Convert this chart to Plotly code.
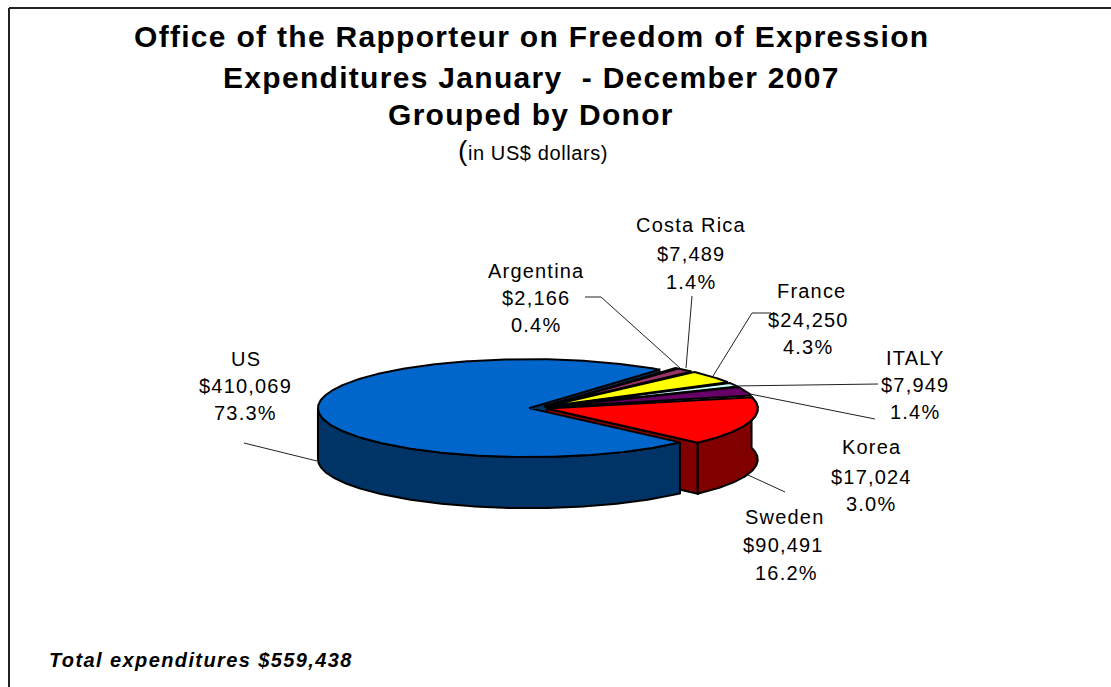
import numpy as np
import plotly.graph_objects as go

donors = ["US", "Argentina", "Costa Rica", "France", "ITALY", "Korea", "Sweden"]
amounts = [410069, 2166, 7489, 24250, 7949, 17024, 90491]
percents = ["73.3%", "0.4%", "1.4%", "4.3%", "1.4%", "3.0%", "16.2%"]
top_colors = ["#0066CC", "#000080", "#993366", "#FFFF00", "#CCFFFF", "#660066", "#FF0000"]
wall_colors = ["#003366", "#000040", "#4D1933", "#808000", "#668080", "#330033", "#800000"]
title_lines = ["Office of the Rapporteur on Freedom of Expression",
               "Expenditures January  - December 2007",
               "Grouped by Donor"]
total_note = "Total expenditures $559,438"

# Geometry of the tilted pie, in page pixels
CX, CY, RX, RY, DEPTH = 538.0, 408.0, 211.0, 49.0, 51.0
EXPLODE = 0.043
START_DEG = 44.3

# Label text centres and leader-line routes, in page pixels
label_layout = {
    "US": [(246, 359), (245, 386), (245, 413)],
    "Argentina": [(536, 271), (536, 298), (536, 325)],
    "Costa Rica": [(691, 225), (691, 254), (691, 282)],
    "France": [(811, 291), (808, 320), (808, 347)],
    "ITALY": [(915, 358), (915, 385), (915, 412)],
    "Korea": [(871, 447), (871, 477), (871, 504)],
    "Sweden": [(784, 517), (783, 545), (786, 573)],
}
leaders = {
    "US": [(244, 443), (317, 461)],
    "Argentina": [(585, 297), (601, 297), (680, 368)],
    "Costa Rica": [(692, 296), (686, 368)],
    "France": [(771, 313), (752, 313), (713, 376)],
    "ITALY": [(878, 384), (733, 386)],
    "Korea": [(875, 419), (750, 394)],
    "Sweden": [(785, 492), (748, 475)],
}

FONT = "Liberation Sans, Arial, sans-serif"
spans = 360.0 * np.array(amounts) / sum(amounts)
starts = START_DEG + np.concatenate([[0], np.cumsum(spans)[:-1]])
ends = starts + spans

fig = go.Figure()


def poly(xs, ys, color):
    fig.add_trace(go.Scatter(x=xs, y=ys, mode="lines", fill="toself", fillcolor=color,
                             line=dict(color="#000000", width=2), hoverinfo="skip",
                             showlegend=False))


def geom(i):
    mid = np.radians((starts[i] + ends[i]) / 2)
    ox = CX + EXPLODE * RX * np.cos(mid)
    oy = CY + EXPLODE * RY * np.sin(mid)
    t = np.radians(np.linspace(starts[i], ends[i], max(4, int(spans[i] * 2))))
    return ox, oy, ox + RX * np.cos(t), oy + RY * np.sin(t)


# US rear cut face closes the gap at the hub
ox, oy, ax, ay = geom(0)
poly([ox, ax[-1], ax[-1], ox, ox], [oy, ay[-1], ay[-1] + DEPTH, oy + DEPTH, oy], wall_colors[0])

# Sweden: cut face and outer wall, then the US wall over them
ox, oy, ax, ay = geom(6)
poly([ox, ax[-1], ax[-1], ox, ox], [oy, ay[-1], ay[-1] + DEPTH, oy + DEPTH, oy], wall_colors[6])
poly(np.r_[ax, ax[::-1], ax[0]], np.r_[ay, ay[::-1] + DEPTH, ay[0]], wall_colors[6])

ox, oy, ax, ay = geom(0)
keep = np.degrees(np.arctan2((ay - oy) / RY, (ax - ox) / RX)) % 360 <= 180
wx, wy = ax[keep], ay[keep]
poly(np.r_[wx, wx[::-1], wx[0]], np.r_[wy, wy[::-1] + DEPTH, wy[0]], wall_colors[0])

# Slice tops
for i in range(len(donors)):
    ox, oy, ax, ay = geom(i)
    poly(np.r_[ox, ax, ox], np.r_[oy, ay, oy], top_colors[i])

# Leader lines
for name, route in leaders.items():
    fig.add_trace(go.Scatter(x=[p[0] for p in route], y=[p[1] for p in route], mode="lines",
                             line=dict(color="#222222", width=1), hoverinfo="skip",
                             showlegend=False))

annotations = []


def text(x, y, s, size, bold=False, italic=False, anchor="center", spacing=0.0):
    s = f"<span style='letter-spacing:{spacing}px'>{s}</span>"
    if bold:
        s = f"<b>{s}</b>"
    if italic:
        s = f"<i>{s}</i>"
    annotations.append(dict(x=x, y=y, xref="x", yref="y", text=s, showarrow=False,
                            xanchor=anchor, yanchor="middle",
                            font=dict(family=FONT, size=size, color="#000000")))


for name, amount, pct in zip(donors, amounts, percents):
    for (lx, ly), s in zip(label_layout[name], [name, f"${amount:,}", pct]):
        text(lx, ly, s, 20, spacing=1.2)

for s, y, in zip(title_lines, [36, 77, 114]):
    text(531, y, s, 30, bold=True, spacing=1.3)
text(533, 150, "<span style='font-size:28px'>(</span>in US$ dollars)", 20, spacing=0.6)
text(47, 660, total_note, 20, bold=True, italic=True, anchor="left", spacing=1.4)

fig.update_layout(
    width=1111, height=687, margin=dict(l=0, r=0, t=0, b=0),
    paper_bgcolor="#FFFFFF", plot_bgcolor="#FFFFFF", hovermode=False, showlegend=False,
    xaxis=dict(range=[0, 1111], visible=False, fixedrange=True),
    yaxis=dict(range=[687, 0], visible=False, fixedrange=True),
    annotations=annotations,
    shapes=[dict(type="line", xref="x", yref="y", x0=9, x1=9, y0=8, y1=687,
                 line=dict(color="#222222", width=2)),
            dict(type="line", xref="x", yref="y", x0=9, x1=1111, y0=8, y1=8,
                 line=dict(color="#222222", width=2))],
)

fig.write_html("out.html", config={"displayModeBar": False},
               post_script="document.body.style.margin='0';document.body.style.overflow='hidden';")
